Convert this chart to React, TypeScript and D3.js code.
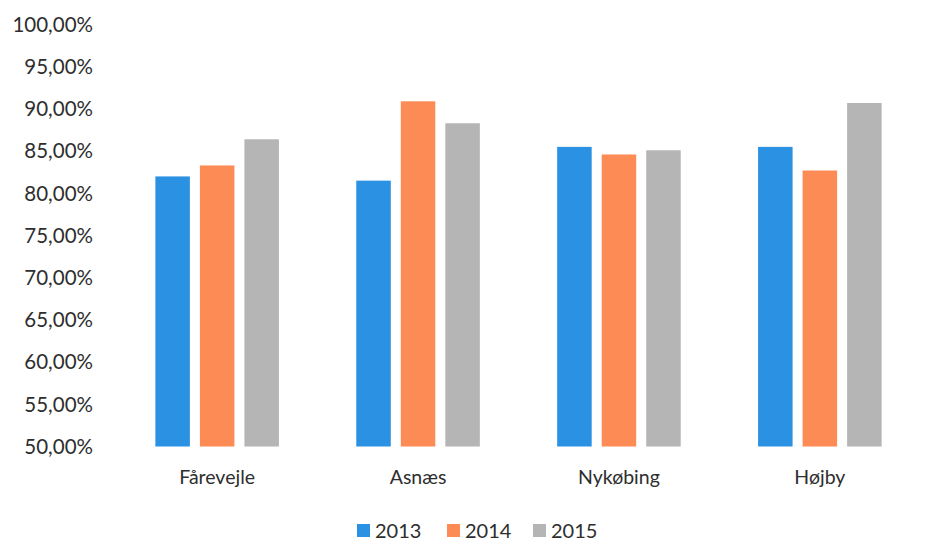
import React from "react";
import * as d3 from "d3";

const categories = ["Fårevejle", "Asnæs", "Nykøbing", "Højby"];
const seriesNames = ["2013", "2014", "2015"];
const values2013 = [82.0, 81.5, 85.5, 85.5];
const values2014 = [83.3, 90.9, 84.6, 82.7];
const values2015 = [86.4, 88.3, 85.1, 90.7];
const yTicks = [50, 55, 60, 65, 70, 75, 80, 85, 90, 95, 100];
const colors = ["#2b91e2", "#fd8b55", "#b5b5b5"];

const W = 942;
const H = 540;
const FONT = "Lato, 'Noto Sans', sans-serif";

export default function App() {
  const series = [values2013, values2014, values2015];
  const y = d3.scaleLinear().domain([50, 100]).range([446.5, 24.5]);
  const x0 = d3
    .scaleBand<string>()
    .domain(categories)
    .range([116.7, 920.3])
    .paddingInner(0.385)
    .paddingOuter(0.1925);
  const x1 = d3
    .scaleBand<string>()
    .domain(seriesNames)
    .range([0, x0.bandwidth()])
    .paddingInner(0.225)
    .paddingOuter(0);
  const fmt = (v: number) => v.toFixed(2).replace(".", ",") + "%";

  const legendX = [357, 447, 533];

  return (
    <svg
      width={W}
      height={H}
      style={{ position: "absolute", left: 0, top: 0, background: "#fff" }}
      fontFamily={FONT}
    >
      <rect x={0} y={0} width={W} height={H} fill="#fff" />
      {yTicks.map((t) => (
        <text
          key={t}
          x={93}
          y={y(t)}
          dy="0.36em"
          textAnchor="end"
          fontSize={20.5}
          fill="#2e2e2e"
        >
          {fmt(t)}
        </text>
      ))}
      {categories.map((c, ci) => (
        <g key={c} transform={`translate(${x0(c)},0)`}>
          {seriesNames.map((s, si) => (
            <rect
              key={s}
              x={x1(s)}
              y={y(series[si][ci])}
              width={x1.bandwidth()}
              height={y(50) - y(series[si][ci])}
              fill={colors[si]}
            />
          ))}
          <text
            x={x0.bandwidth() / 2}
            y={484}
            textAnchor="middle"
            fontSize={19.5}
            fill="#2e2e2e"
          >
            {c}
          </text>
        </g>
      ))}
      {seriesNames.map((s, si) => (
        <g key={s} transform={`translate(${legendX[si]},0)`}>
          <rect x={0} y={524} width={13} height={13} fill={colors[si]} />
          <text x={18} y={537.5} fontSize={20} fill="#2e2e2e">
            {s}
          </text>
        </g>
      ))}
    </svg>
  );
}
